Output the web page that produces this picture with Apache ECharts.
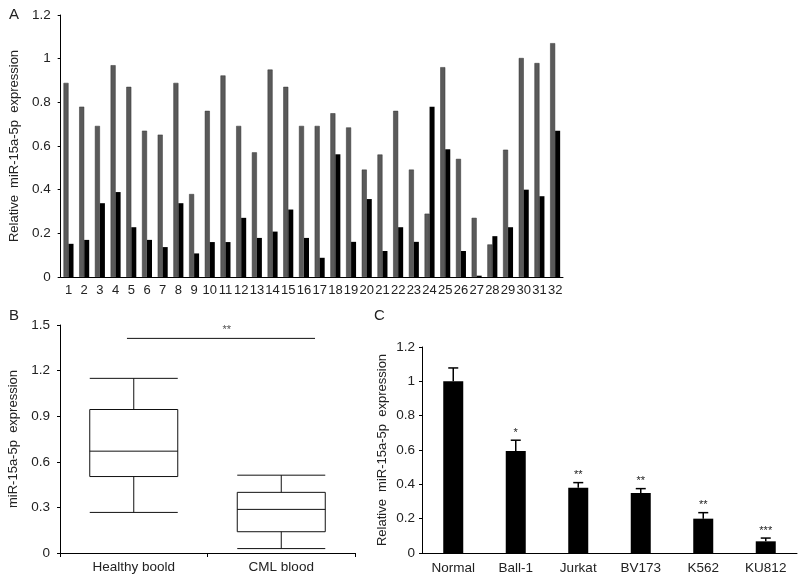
<!DOCTYPE html>
<html><head><meta charset="utf-8">
<script src="https://cdn.jsdelivr.net/npm/echarts@6/dist/echarts.min.js"></script>
<style>html,body{margin:0;padding:0;background:#fff}#c{width:800px;height:582px}</style>
</head><body><div id="c"></div>
<script>
// Panel A
var samplesA = ['1','2','3','4','5','6','7','8','9','10','11','12','13','14','15','16','17','18','19','20','21','22','23','24','25','26','27','28','29','30','31','32'];
var grayA = [0.889,0.780,0.692,0.970,0.871,0.670,0.652,0.889,0.380,0.761,0.923,0.692,0.571,0.950,0.871,0.692,0.692,0.750,0.685,0.492,0.561,0.761,0.492,0.290,0.961,0.541,0.271,0.149,0.583,1.003,0.980,1.071];
var blackA = [0.152,0.170,0.338,0.389,0.228,0.170,0.137,0.338,0.108,0.160,0.160,0.271,0.179,0.208,0.309,0.179,0.088,0.562,0.161,0.357,0.119,0.228,0.161,0.780,0.585,0.119,0.006,0.187,0.228,0.400,0.370,0.670];
// Panel B : [min, Q1, median, Q3, max]
var groupsB = ['Healthy boold','CML blood'];
var healthyB = [0.267,0.503,0.670,0.944,1.149];
var cmlB = [0.029,0.140,0.287,0.399,0.512];
var sigB = [[0.454,1.412],[1.729,1.412]];
var sigLabelPosB = [1.13,1.412];
var sigLabelB = '**';
// Panel C
var cellsC = ['Normal','Ball-1','Jurkat','BV173','K562','KU812'];
var meanC = [1.0,0.594,0.380,0.350,0.200,0.068];
var errC = [0.078,0.063,0.030,0.025,0.035,0.019];
var starsC = ['','*','**','**','**','***'];

var FONT = 'Liberation Sans, Arial, sans-serif';
var TXT = '#222';
var FS = 13.5;
var axLine = {show:true, lineStyle:{color:'#000', width:1}};

var chart = echarts.init(document.getElementById('c'), null, {renderer:'canvas'});
chart.setOption({
  animation:false,
  backgroundColor:'#fff',
  textStyle:{fontFamily:FONT},
  title:[
    {text:'A', left:4, top:2, textStyle:{fontSize:15, fontWeight:'normal', color:TXT, fontFamily:FONT}},
    {text:'B', left:4, top:303, textStyle:{fontSize:15, fontWeight:'normal', color:TXT, fontFamily:FONT}},
    {text:'C', left:369, top:303, textStyle:{fontSize:15, fontWeight:'normal', color:TXT, fontFamily:FONT}}
  ],
  grid:[
    {left:58, right:237, top:15, bottom:305},
    {left:60, right:445, top:325, bottom:29},
    {left:422, right:3, top:347, bottom:29}
  ],
  xAxis:[
    {type:'category', gridIndex:0, data:samplesA, axisLine:axLine, axisTick:{show:false},
     axisLabel:{interval:0, fontSize:13, color:TXT, margin:7, fontFamily:FONT}},
    {type:'category', gridIndex:1, data:groupsB, axisLine:axLine, axisTick:{show:true, length:4, lineStyle:{color:'#000'}},
     axisLabel:{fontSize:FS, color:TXT, margin:7, fontFamily:FONT}},
    {type:'value', gridIndex:1, min:0, max:2, show:false},
    {type:'category', gridIndex:2, data:cellsC, axisLine:axLine, axisTick:{show:false},
     axisLabel:{interval:0, fontSize:FS, color:TXT, margin:8, fontFamily:FONT}}
  ],
  yAxis:[
    {type:'value', gridIndex:0, min:0, max:1.2, interval:0.2, axisLine:axLine,
     axisTick:{show:true, length:3, lineStyle:{color:'#000'}}, splitLine:{show:false},
     axisLabel:{fontSize:FS, color:TXT, margin:10, fontFamily:FONT},
     name:'Relative  miR-15a-5p  expression', nameLocation:'middle', nameGap:38,
     nameTextStyle:{fontSize:13, color:TXT, fontFamily:FONT}},
    {type:'value', gridIndex:1, min:0, max:1.5, interval:0.3, axisLine:axLine,
     axisTick:{show:true, length:3, lineStyle:{color:'#000'}}, splitLine:{show:false},
     axisLabel:{fontSize:FS, color:TXT, margin:10, fontFamily:FONT},
     name:'miR-15a-5p  expression', nameLocation:'middle', nameGap:40,
     nameTextStyle:{fontSize:13, color:TXT, fontFamily:FONT}},
    {type:'value', gridIndex:2, min:0, max:1.2, interval:0.2, axisLine:axLine,
     axisTick:{show:true, length:3, lineStyle:{color:'#000'}}, splitLine:{show:false},
     axisLabel:{fontSize:FS, color:TXT, margin:7, fontFamily:FONT},
     name:'Relative  miR-15a-5p  expression', nameLocation:'middle', nameGap:33,
     nameTextStyle:{fontSize:13, color:TXT, fontFamily:FONT}}
  ],
  series:[
    {type:'bar', xAxisIndex:0, yAxisIndex:0, data:grayA, barWidth:5, barGap:'0%',
     itemStyle:{color:'#5a5a5a', borderColor:'#333', borderWidth:0.5}},
    {type:'bar', xAxisIndex:0, yAxisIndex:0, data:blackA, barWidth:5, barGap:'0%',
     itemStyle:{color:'#000'}},
    {type:'boxplot', xAxisIndex:1, yAxisIndex:1, data:[healthyB, cmlB], boxWidth:[88,88],
     itemStyle:{color:'#fff', borderColor:'#111', borderWidth:1}},
    {type:'line', xAxisIndex:2, yAxisIndex:1, symbol:'none', data:sigB,
     lineStyle:{color:'#111', width:1}},
    {type:'scatter', xAxisIndex:2, yAxisIndex:1, symbolSize:1, itemStyle:{color:'rgba(0,0,0,0)'},
     data:[sigLabelPosB],
     label:{show:true, formatter:sigLabelB, position:'top', distance:2, fontSize:11, color:TXT, fontFamily:FONT}},
    {type:'bar', xAxisIndex:3, yAxisIndex:2, data:meanC, barWidth:20, itemStyle:{color:'#000'}},
    {type:'custom', xAxisIndex:3, yAxisIndex:2,
     data:meanC.map(function(m,i){return [i, m, m+errC[i]];}),
     renderItem:function(params, api){
       var i = api.value(0);
       var p0 = api.coord([i, api.value(1)]);
       var p1 = api.coord([i, api.value(2)]);
       var children = [
         {type:'line', shape:{x1:p0[0], y1:p0[1], x2:p1[0], y2:p1[1]}, style:{stroke:'#000', lineWidth:1.5}},
         {type:'line', shape:{x1:p1[0]-5, y1:p1[1], x2:p1[0]+5, y2:p1[1]}, style:{stroke:'#000', lineWidth:1.5}}
       ];
       if (starsC[i]) {
         children.push({type:'text', style:{text:starsC[i], x:p1[0], y:p1[1]-2, textAlign:'center', textVerticalAlign:'bottom', fontSize:11, fill:TXT, fontFamily:FONT}});
       }
       return {type:'group', children:children};
     }}
  ]
});
</script></body></html>
